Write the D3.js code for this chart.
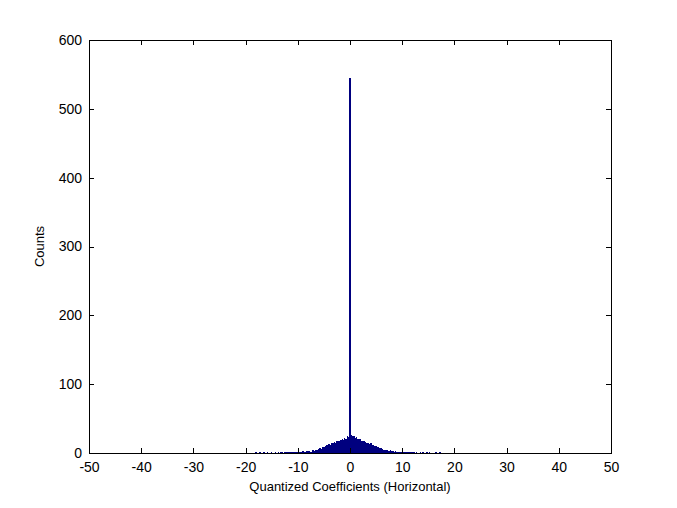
<!DOCTYPE html>
<html>
<head>
<meta charset="utf-8">
<script src="https://cdn.jsdelivr.net/npm/d3@7"></script>
<style>
  body { margin: 0; background: #fff; }
  text { font-family: "Liberation Sans", Arial, sans-serif; fill: #000; }
</style>
</head>
<body>
<svg id="svg" width="677" height="508"></svg>
<script>
// histogram bins, 0.25 wide, first bin centred at -18
const binStart = -18
const binWidth = 0.25

const countsLeft = [1, 0, 0, 1, 0, 0, 1, 0, 0, 1, 0, 0, 1, 0, 0, 1, 0, 1, 0, 1,
    1, 0, 1, 1, 2, 1, 1, 2, 1, 2, 2, 1, 2, 2, 1, 2, 3, 2, 2, 3,
    3, 3, 2, 4, 4, 3, 5, 5, 6, 7, 6, 8, 9, 10, 11, 12, 13, 12, 14, 15,
    16, 15, 17, 18, 17, 19, 20, 19, 22, 21, 24, 23]
const countZero = [545]
const countsRight = [26, 25, 24, 22, 23, 21, 20, 21, 18, 17, 18, 16, 15, 14, 13, 14,
    12, 11, 10, 10, 8, 9, 7, 7, 6, 5, 5, 4, 4, 3, 4, 3, 3, 2, 3, 2,
    2, 2, 1, 2, 1, 2, 1, 1, 1, 1, 2, 1, 1, 0, 1, 0, 0, 1, 0, 1,
    0, 0, 1, 0, 1, 0, 0, 0, 0, 1, 0, 0, 1, 0, 0, 0]

const counts = countsLeft.concat(countZero, countsRight)

const xTicks = [-50, -40, -30, -20, -10, 0, 10, 20, 30, 40, 50]
const yTicks = [0, 100, 200, 300, 400, 500, 600]

const xLabel = 'Quantized Coefficients (Horizontal)'
const yLabel = 'Counts'

const margin = { left: 89, right: 66, top: 40, bottom: 55 }
const width = 677, height = 508

const svg = d3.select('#svg')

const x = d3.scaleLinear().domain([-50, 50]).range([margin.left, width - margin.right])
const y = d3.scaleLinear().domain([0, 600]).range([height - margin.bottom, margin.top])

const bins = counts.map((c, i) => {
    const centre = binStart + i * binWidth
    return { x0: centre - binWidth / 2, x1: centre + binWidth / 2, count: c }
})

svg.append('g')
    .attr('shape-rendering', 'crispEdges')
    .selectAll('rect')
    .data(bins.filter(d => d.count > 0))
    .enter().append('rect')
    .attr('x', d => x(d.x0))
    .attr('width', d => x(d.x1) - x(d.x0))
    .attr('y', d => y(d.count))
    .attr('height', d => y(0) - y(d.count))
    .attr('fill', '#00007f')

// axes, MATLAB style: box with inward ticks on all sides
const tickLen = 5
const plain = d => String(d)   // hyphen minus like MATLAB, not the unicode minus
svg.append('g').attr('transform', `translate(0,${y(0)})`)
    .call(d3.axisBottom(x).tickValues(xTicks).tickFormat(plain).tickSizeInner(-tickLen).tickSizeOuter(0).tickPadding(9))
svg.append('g').attr('transform', `translate(0,${y(600)})`)
    .call(d3.axisTop(x).tickValues(xTicks).tickSizeInner(-tickLen).tickSizeOuter(0).tickFormat(''))
svg.append('g').attr('transform', `translate(${x(-50)},0)`)
    .call(d3.axisLeft(y).tickValues(yTicks).tickFormat(plain).tickSizeInner(-tickLen).tickSizeOuter(0).tickPadding(7))
svg.append('g').attr('transform', `translate(${x(50)},0)`)
    .call(d3.axisRight(y).tickValues(yTicks).tickSizeInner(-tickLen).tickSizeOuter(0).tickFormat(''))

svg.selectAll('.domain, .tick line').attr('stroke', '#000').attr('shape-rendering', 'crispEdges')
svg.selectAll('.tick text').style('font-size', '14px').attr('fill', '#000')

svg.append('text')
    .attr('x', (x(-50) + x(50)) / 2)
    .attr('y', 491)
    .attr('text-anchor', 'middle')
    .style('font-size', '13px')
    .text(xLabel)

svg.append('text')
    .attr('transform', `translate(44,${(y(0) + y(600)) / 2}) rotate(-90)`)
    .attr('text-anchor', 'middle')
    .style('font-size', '13px')
    .text(yLabel)
</script>
</body>
</html>
